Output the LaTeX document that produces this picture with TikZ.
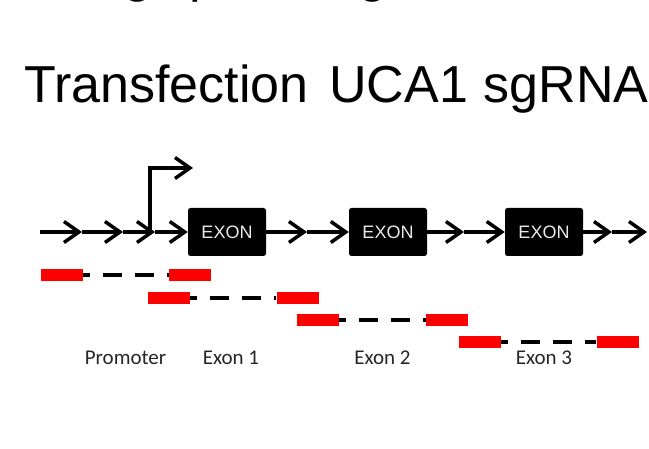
\documentclass[tikz,border=0pt]{standalone}
\usepackage{fontspec}
\setmainfont{Liberation Sans}
\newfontfamily\labelfont{Carlito}
\usetikzlibrary{arrows.meta}
\begin{document}
\begin{tikzpicture}[x=1pt,y=-1pt,
  mainline/.style={line width=3.5pt,-{Straight Barb[length=15pt,width=21pt]}},
  exonbox/.style={fill=black,rounded corners=2.5pt,minimum width=78pt,minimum height=48pt,inner sep=0pt,
    text=white!92!black,font=\fontsize{18}{20}\selectfont},
  redbar/.style={fill=red,minimum width=42pt,minimum height=12pt,inner sep=0pt},
  dashline/.style={line width=4.5pt,dash pattern=on 19pt off 13pt,dash phase=12pt},
  lab/.style={font=\labelfont\fontsize{21}{24}\selectfont,anchor=base,inner sep=0pt,text=black!85},
  frag/.style={font=\fontsize{52}{60}\selectfont,anchor=base west,inner sep=0pt}
]
\useasboundingbox (0,0) rectangle (649,449);
\fill[white] (0,0) rectangle (649,449);

% cut-off line at the very top
\node[frag] (f1) at (123,-8) {g};
\node[frag] (f2) at (189,-8) {p};
\node[frag] (f3) at (358,-8) {g};

% title
\node[anchor=base west,inner sep=0pt,font=\fontsize{52}{60}\selectfont] (title) at (24,103) {Transfection\hspace{6.5pt} UCA1\hspace{1.5pt} sgRNA};

% exons
\node[exonbox] (ex1) at (227,232) {EXON};
\node[exonbox] (ex2) at (388,232) {EXON};
\node[exonbox] (ex3) at (544,232) {EXON};

% main line points
\coordinate (m0) at (40,232);
\coordinate (m1) at (82,232);
\coordinate (m2) at (123,232);
\coordinate (m3) at (155,232);
\coordinate (m5) at (307,232);
\coordinate (m7) at (464,232);
\coordinate (m9) at (612,232);
\coordinate (m10) at (647,232);
\coordinate (p0) at (150,232);
\coordinate (p1) at (150,168);
\coordinate (p2) at (193,168);

\draw[mainline] (m0) -- (m1);
\draw[mainline] (m1) -- (m2);
\draw[mainline] (m2) -- (m3);
\draw[mainline] (m3) -- (ex1.west);
\draw[mainline] (ex1.east) -- (m5);
\draw[mainline] (m5) -- (ex2.west);
\draw[mainline] (ex2.east) -- (m7);
\draw[mainline] (m7) -- (ex3.west);
\draw[mainline] (ex3.east) -- (m9);
\draw[mainline] (m9) -- (m10);
\draw[mainline] (p0) -- (p1) -- (p2);

% sgRNA pairs
\node[redbar] (r1a) at (62,275) {};
\node[redbar] (r1b) at (190,275) {};
\node[redbar] (r2a) at (168.5,298) {};
\node[redbar] (r2b) at (297.5,298) {};
\node[redbar] (r3a) at (318,320) {};
\node[redbar] (r3b) at (447,320) {};
\node[redbar] (r4a) at (479.5,342) {};
\node[redbar] (r4b) at (617.5,342) {};
\draw[dashline] (r1a.east) -- (r1b.west);
\draw[dashline] (r2a.east) -- (r2b.west);
\draw[dashline] (r3a.east) -- (r3b.west);
\draw[dashline] (r4a.east) -- (r4b.west);

% labels
\node[lab] (lp) at (125.5,365) {Promoter};
\node[lab] (l1) at (231,365) {Exon 1};
\node[lab] (l2) at (382.5,365) {Exon 2};
\node[lab] (l3) at (544,365) {Exon 3};
\end{tikzpicture}
\end{document}
